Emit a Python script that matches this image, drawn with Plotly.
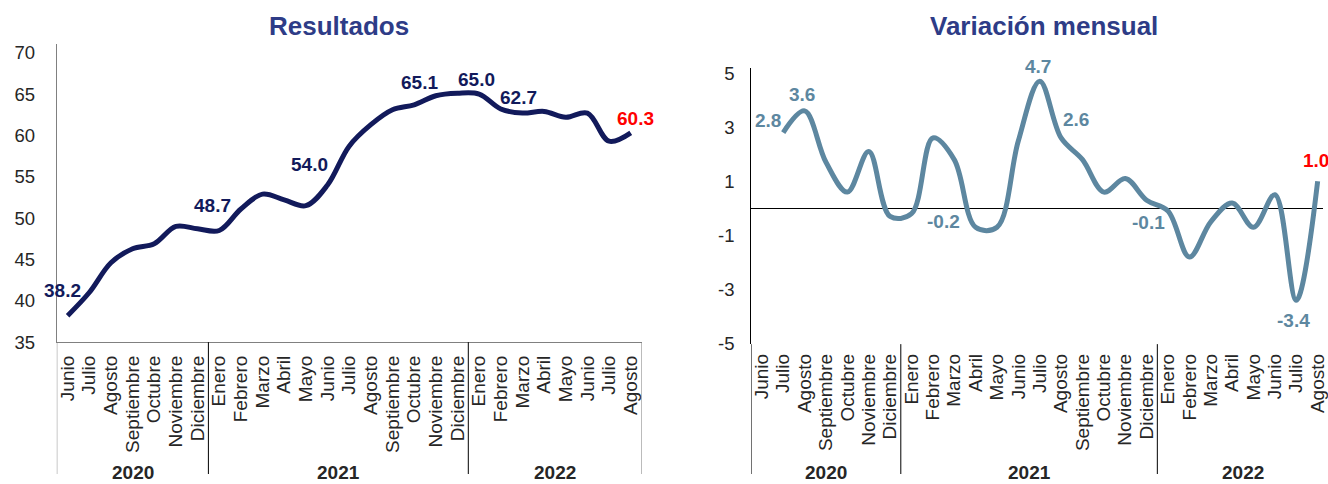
import plotly.graph_objects as go

# Datos (junio 2020 - agosto 2022)
meses = ["Junio", "Julio", "Agosto", "Septiembre", "Octubre", "Noviembre", "Diciembre",
         "Enero", "Febrero", "Marzo", "Abril", "Mayo", "Junio", "Julio", "Agosto",
         "Septiembre", "Octubre", "Noviembre", "Diciembre",
         "Enero", "Febrero", "Marzo", "Abril", "Mayo", "Junio", "Julio", "Agosto"]
anios = ["2020"] * 7 + ["2021"] * 12 + ["2022"] * 8

resultados = [38.2, 41.0, 44.6, 46.3, 46.9, 49.0, 48.7,
              48.5, 51.1, 52.9, 52.2, 51.5, 54.0, 58.7, 61.3, 63.1, 63.7, 64.8, 65.1,
              65.0, 63.2, 62.7, 62.9, 62.2, 62.7, 59.3, 60.3]
variacion = [None, 2.8, 3.6, 1.7, 0.6, 2.1, -0.3,
             -0.2, 2.6, 1.8, -0.7, -0.7, 2.5, 4.7, 2.6, 1.8, 0.6, 1.1, 0.3,
             -0.1, -1.8, -0.5, 0.2, -0.7, 0.5, -3.4, 1.0]
ticks_var = [-5, -3, -1, 1, 3, 5]

# puntos con etiqueta y desplazamiento (px) de la etiqueta
etiquetas_res = {0: (-5, 24), 6: (15, 23), 12: (-18, 20), 18: (-38, 10),
                 19: (-3, 14), 21: (-4, 15), 26: (5, 14)}
etiquetas_var = {1: (-15, 12), 2: (-3, 16), 7: (32, -8), 13: (-2, 14),
                 14: (15, 18), 19: (-20, -11), 25: (-3, -20), 26: (-2, 20)}

W, H = 1328, 484
# la captura comprime un poco en vertical: se compensa al ubicar elementos
ESCALA_V, DESPL_V = 0.968, 6.5
AZUL = "#121A5B"
GRIS_AZUL = "#5D87A0"
TITULO = "#2E3C87"
TEXTO = "#262626"
ROJO = "#FF0000"
ARIAL = "Liberation Sans, Arial, sans-serif"

idx = list(range(len(meses)))


def px_x(p):
    return p / W


def px_y(p):
    return 1 - ((p - DESPL_V) / ESCALA_V) / H


fig = go.Figure()
fig.add_trace(go.Scatter(
    x=idx, y=resultados, mode="lines",
    line=dict(color=AZUL, width=5, shape="spline", smoothing=1.0),
    xaxis="x", yaxis="y", hoverinfo="skip", showlegend=False
))
fig.add_trace(go.Scatter(
    x=idx, y=variacion, mode="lines",
    line=dict(color=GRIS_AZUL, width=5, shape="spline", smoothing=1.0),
    xaxis="x2", yaxis="y2", hoverinfo="skip", showlegend=False
))

annotations = []
for serie, etiquetas, color, xr, yr in [(resultados, etiquetas_res, AZUL, "x", "y"),
                                        (variacion, etiquetas_var, GRIS_AZUL, "x2", "y2")]:
    ultimo = len(serie) - 1
    for i, (dx, dy) in etiquetas.items():
        annotations.append(dict(
            x=i, y=serie[i], xref=xr, yref=yr, text=f"<b>{serie[i]:.1f}</b>",
            showarrow=False, xshift=dx, yshift=dy / ESCALA_V,
            xanchor="center", yanchor="middle",
            font=dict(family=ARIAL, size=19, color=ROJO if i == ultimo else color)
        ))

# años centrados bajo cada grupo de meses
for xr in ["x", "x2"]:
    for a in dict.fromkeys(anios):
        pos = [i for i, v in enumerate(anios) if v == a]
        annotations.append(dict(
            x=(pos[0] + pos[-1]) / 2, y=px_y(474), xref=xr, yref="paper",
            text=f"<b>{a}</b>", showarrow=False, xanchor="center", yanchor="middle",
            font=dict(family=ARIAL, size=19, color=TEXTO)
        ))

for texto, cx in [("Resultados", 340), ("Variación mensual", 1048)]:
    annotations.append(dict(x=px_x(cx), y=px_y(27), xref="paper", yref="paper",
                            text=f"<b>{texto}</b>", showarrow=False,
                            xanchor="center", yanchor="middle",
                            font=dict(family=ARIAL, size=26, color=TITULO)))

# separadores de años en el eje de categorías
cortes = [i - 0.5 for i in range(1, len(anios)) if anios[i] != anios[i - 1]]
shapes = []
base_izq = px_y(343)
base_der = px_y(345)
shapes.append(dict(type="line", xref="x", yref="paper", x0=-0.5, x1=-0.5,
                   y0=0, y1=base_izq, line=dict(color="#808080", width=1)))
shapes.append(dict(type="line", xref="x", yref="paper", x0=len(meses) - 0.5, x1=len(meses) - 0.5,
                   y0=0, y1=base_izq, line=dict(color="#808080", width=1)))
shapes.append(dict(type="line", xref="x2", yref="paper", x0=-0.5, x1=-0.5,
                   y0=0, y1=base_der, line=dict(color="#000000", width=1)))
for c in cortes:
    shapes.append(dict(type="line", xref="x", yref="paper", x0=c, x1=c,
                       y0=0, y1=base_izq, line=dict(color="#000000", width=1)))
    shapes.append(dict(type="line", xref="x2", yref="paper", x0=c, x1=c,
                       y0=0, y1=base_der, line=dict(color="#000000", width=1)))

eje_x = dict(tickmode="array", tickvals=idx, ticktext=meses, tickangle=-90,
             showgrid=False, zeroline=False, ticks="", ticklabelstandoff=5,
             ticklabeloverflow="allow",
             tickfont=dict(family=ARIAL, size=19, color=TEXTO))

fig.update_layout(
    width=W, height=H,
    margin=dict(l=0, r=0, t=0, b=0),
    paper_bgcolor="white", plot_bgcolor="white",
    xaxis=dict(eje_x, domain=[px_x(57), px_x(644)], range=[-0.5, 26.5], anchor="y",
               showline=True, linecolor="#808080", linewidth=1),
    yaxis=dict(domain=[px_y(343), px_y(45)], range=[35, 71.0], tick0=35, dtick=5,
               showgrid=False, zeroline=False, showline=True, linecolor="#808080",
               linewidth=1, ticks="", ticklabelstandoff=17,
               tickfont=dict(family=ARIAL, size=18.5, color=TEXTO), anchor="x"),
    xaxis2=dict(eje_x, domain=[px_x(754), 1.0], range=[-0.5, 26.25], anchor="y2",
                showline=False),
    yaxis2=dict(domain=[px_y(345), px_y(69)], range=[-5.02, 5.17],
                tickvals=ticks_var, ticktext=[str(v) for v in ticks_var], showgrid=False,
                zeroline=True, zerolinecolor="#000000", zerolinewidth=1,
                showline=True, linecolor="#000000", linewidth=1, ticks="",
                ticklabelstandoff=12,
                tickfont=dict(family=ARIAL, size=18.5, color=TEXTO), anchor="x2"),
    annotations=annotations,
    shapes=shapes,
)

fig.write_html(
    "out.html",
    config={"displayModeBar": False},
    post_script=("document.documentElement.style.margin='0';"
                 "document.documentElement.style.padding='0';"
                 "document.body.style.margin='0';document.body.style.padding='0';"
                 "document.documentElement.style.overflow='hidden';"
                 "document.body.style.overflow='hidden';"),
)
